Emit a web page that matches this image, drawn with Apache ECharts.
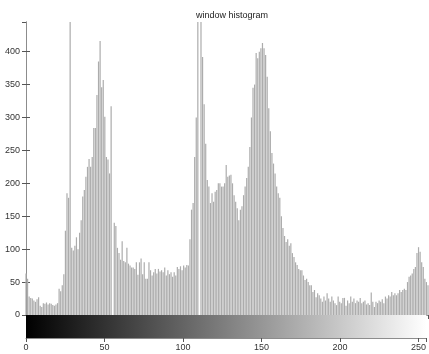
<!DOCTYPE html>
<html>
<head>
<meta charset="utf-8">
<script src="https://cdn.jsdelivr.net/npm/echarts@6/dist/echarts.min.js"></script>
<style>
  html, body { margin: 0; padding: 0; background: #fff; }
  #main { width: 429px; height: 354px; }
</style>
</head>
<body>
<div id="main"></div>
<script>
// gray levels 0..255 and their counts
var counts = [
  63, 55, 28, 26, 25, 22, 20, 24, 27, 14, 12, 18, 17, 19, 16, 18,
  17, 15, 14, 16, 18, 40, 36, 45, 62, 128, 185, 178, 520, 102, 98, 105,
  118, 100, 125, 144, 180, 190, 210, 225, 237, 225, 240, 284, 284, 334, 385, 416,
  346, 357, 301, 240, 236, 215, 317, 0, 140, 135, 102, 94, 84, 112, 82, 80,
  102, 78, 75, 72, 72, 70, 80, 61, 80, 86, 62, 80, 55, 55, 80, 68,
  60, 65, 70, 63, 70, 66, 68, 65, 72, 60, 68, 62, 65, 58, 65, 60,
  73, 70, 74, 68, 75, 72, 76, 75, 115, 160, 170, 240, 300, 520, 0, 520,
  392, 320, 260, 205, 195, 170, 185, 172, 187, 190, 200, 200, 195, 195, 200, 228,
  210, 212, 213, 200, 182, 172, 162, 144, 160, 165, 182, 195, 208, 225, 255, 300,
  345, 350, 398, 390, 400, 405, 413, 405, 395, 362, 314, 279, 246, 230, 215, 195,
  185, 178, 150, 132, 120, 111, 115, 105, 109, 94, 88, 80, 76, 70, 68, 68,
  60, 53, 55, 50, 45, 45, 35, 38, 27, 33, 30, 25, 20, 28, 22, 33,
  25, 20, 28, 22, 18, 15, 28, 20, 18, 26, 26, 14, 22, 18, 28, 20,
  25, 18, 22, 20, 26, 18, 20, 22, 16, 18, 15, 34, 20, 12, 20, 18,
  22, 20, 24, 18, 28, 25, 30, 28, 35, 30, 33, 30, 33, 38, 35, 38,
  40, 38, 50, 58, 60, 63, 70, 73, 94, 103, 96, 80, 73, 55, 50, 45
];
var xMax = 255;
var yMax = 445;
var titleText = 'window histogram';

var levels = counts.map(function (v, i) { return i; });
var barData = levels.map(function (lv, i) { return [lv, counts[i]]; });

var frameColor = '#8c8c8c';
var tickStyle = { show: true, inside: true, length: 4, lineStyle: { color: '#555', width: 1 } };
var labelFont = { color: '#333', fontSize: 9, fontFamily: 'Liberation Sans, Arial, sans-serif' };

var myChart = echarts.init(document.getElementById('main'), null, { renderer: 'canvas' });
var option = {
  animation: false,
  title: {
    text: titleText,
    left: 227,
    textAlign: 'center',
    top: 6,
    textStyle: { fontSize: 9, fontWeight: 'normal', color: '#222', fontFamily: 'Liberation Sans, Arial, sans-serif' }
  },
  grid: [
    { left: 26, right: 1, top: 22, height: 293 },
    { left: 26, right: 1, top: 315, height: 23 }
  ],
  xAxis: [
    {
      gridIndex: 0, type: 'value', min: 0, max: xMax, interval: 50, position: 'bottom',
      axisLine: { show: true, lineStyle: { color: frameColor } },
      axisTick: { show: false }, axisLabel: { show: false }, splitLine: { show: false }
    },
    {
      gridIndex: 0, type: 'value', min: 0, max: xMax, interval: 50, position: 'top',
      axisLine: { show: true, lineStyle: { color: frameColor } },
      axisTick: tickStyle, axisLabel: { show: false }, splitLine: { show: false }
    },
    {
      gridIndex: 1, type: 'value', min: 0, max: xMax, interval: 50, position: 'bottom',
      axisLine: { show: true, lineStyle: { color: frameColor } },
      axisTick: tickStyle,
      axisLabel: Object.assign({ margin: 5, showMaxLabel: false }, labelFont),
      splitLine: { show: false }
    },
    {
      gridIndex: 1, type: 'value', min: 0, max: xMax, interval: 50, position: 'top',
      axisLine: { show: false },
      axisTick: tickStyle, axisLabel: { show: false }, splitLine: { show: false }
    }
  ],
  yAxis: [
    {
      gridIndex: 0, type: 'value', min: 0, max: yMax, interval: 50, position: 'left',
      axisLine: { show: true, lineStyle: { color: frameColor } },
      axisTick: tickStyle,
      axisLabel: Object.assign({ margin: 6, showMaxLabel: false }, labelFont),
      splitLine: { show: false }
    },
    {
      gridIndex: 0, type: 'value', min: 0, max: yMax, interval: 50, position: 'right',
      axisLine: { show: true, lineStyle: { color: frameColor } },
      axisTick: tickStyle, axisLabel: { show: false }, splitLine: { show: false }
    },
    {
      gridIndex: 1, type: 'value', min: 0, max: 1, interval: 0.5, position: 'left',
      axisLine: { show: true, lineStyle: { color: frameColor } },
      axisTick: { show: false }, axisLabel: { show: false }, splitLine: { show: false }
    },
    {
      gridIndex: 1, type: 'value', min: 0, max: 1, interval: 0.5, position: 'right',
      axisLine: { show: true, lineStyle: { color: frameColor } },
      axisTick: { show: false }, axisLabel: { show: false }, splitLine: { show: false }
    }
  ],
  series: [
    {
      type: 'bar',
      xAxisIndex: 0,
      yAxisIndex: 0,
      data: barData,
      barWidth: 1.2,
      clip: true,
      itemStyle: { color: '#acacac' }
    },
    {
      // gray scale colour bar under the histogram
      type: 'custom',
      xAxisIndex: 2,
      yAxisIndex: 2,
      data: [[0, xMax]],
      renderItem: function (params, api) {
        var p0 = api.coord([api.value(0), 1]);
        var p1 = api.coord([api.value(1), 0]);
        return {
          type: 'rect',
          shape: { x: p0[0], y: p0[1], width: p1[0] - p0[0], height: p1[1] - p0[1] },
          style: {
            fill: new echarts.graphic.LinearGradient(0, 0, 1, 0, [
              { offset: 0, color: '#000' },
              { offset: 1, color: '#fff' }
            ])
          }
        };
      }
    }
  ]
};

myChart.setOption(option);
</script>
</body>
</html>
